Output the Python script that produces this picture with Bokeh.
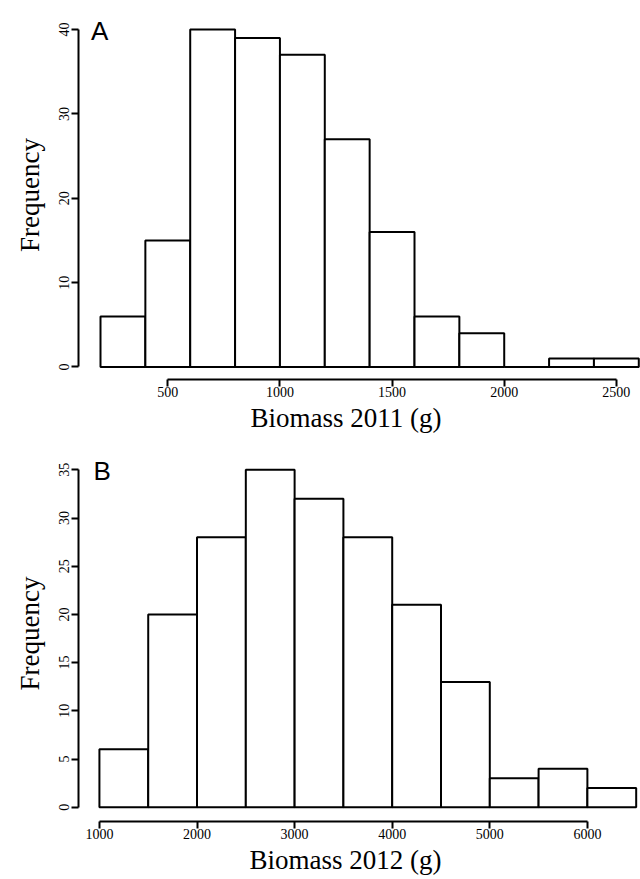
from bokeh.plotting import figure
from bokeh.models import Range1d, FixedTicker, Label, Title
from bokeh.layouts import column
from bokeh.embed import file_html
from bokeh.resources import INLINE

# ---- data ----
edges_2011 = [200, 400, 600, 800, 1000, 1200, 1400, 1600, 1800, 2000, 2200, 2400, 2600]
counts_2011 = [6, 15, 40, 39, 37, 27, 16, 6, 4, 0, 1, 1]
xticks_2011 = [500, 1000, 1500, 2000, 2500]
yticks_2011 = [0, 10, 20, 30, 40]

edges_2012 = [1000, 1500, 2000, 2500, 3000, 3500, 4000, 4500, 5000, 5500, 6000, 6500]
counts_2012 = [6, 20, 28, 35, 32, 28, 21, 13, 3, 4, 2]
xticks_2012 = [1000, 2000, 3000, 4000, 5000, 6000]
yticks_2012 = [0, 5, 10, 15, 20, 25, 30, 35]

SERIF = "Liberation Serif"
SANS = "Liberation Sans"


def make_hist(edges, counts, xticks, yticks, xlabel, panel, xr, yr,
              height, border_left, border_top, border_bottom, label_pos,
              xlabel_offset):
    p = figure(width=640, height=height, output_backend="svg",
               toolbar_location=None, x_range=Range1d(*xr), y_range=Range1d(*yr),
               min_border_left=border_left, min_border_right=0,
               min_border_top=border_top, min_border_bottom=border_bottom)
    p.outline_line_color = None
    p.xgrid.visible = False
    p.ygrid.visible = False
    p.background_fill_color = "white"
    p.border_fill_color = "white"

    p.quad(left=edges[:-1], right=edges[1:], top=counts, bottom=0,
           fill_color="white", line_color="black", line_width=2)

    for ax, ticks in ((p.xaxis[0], xticks), (p.yaxis[0], yticks)):
        ax.ticker = FixedTicker(ticks=ticks)
        ax.bounds = (ticks[0], ticks[-1])
        ax.axis_line_width = 2
        ax.axis_line_color = "black"
        ax.major_tick_line_width = 2
        ax.major_tick_line_color = "black"
        ax.major_tick_out = 7
        ax.major_tick_in = 0
        ax.minor_tick_line_color = None
        ax.major_label_text_font = SERIF
        ax.major_label_text_font_size = "14px"
        ax.major_label_text_color = "black"
        ax.axis_label_text_font = SERIF
        ax.axis_label_text_font_size = "27px"
        ax.axis_label_text_font_style = "normal"
        ax.axis_label_text_color = "black"

    p.xaxis[0].major_label_standoff = 0
    p.yaxis[0].axis_label = "Frequency"
    p.yaxis[0].major_label_orientation = "vertical"
    p.yaxis[0].major_label_standoff = 2
    p.yaxis[0].axis_label_standoff = 12

    # x-axis title, placed below the axis where the reference has it
    p.add_layout(Title(text=xlabel, align="left", offset=xlabel_offset,
                       text_font=SERIF, text_font_size="27px",
                       text_font_style="normal", text_color="black",
                       standoff=2), "below")
    # panel letter
    p.add_layout(Label(x=label_pos[0], y=label_pos[1], text=panel,
                       text_font=SANS, text_font_size="26px",
                       text_color="black", text_align="left",
                       text_baseline="alphabetic"))
    return p


pa = make_hist(edges_2011, counts_2011, xticks_2011, yticks_2011,
               "Biomass 2011 (g)", "A",
               xr=(101.9, 2607.6), yr=(-1.4815, 42.252),
               height=440, border_left=78, border_top=10, border_bottom=61,
               label_pos=(157.6, 39.88), xlabel_offset=172)

pb = make_hist(edges_2012, counts_2012, xticks_2012, yticks_2012,
               "Biomass 2012 (g)", "B",
               xr=(785.6, 6544.2), yr=(-1.483, 37.521),
               height=439, border_left=76, border_top=5, border_bottom=58,
               label_pos=(938.7, 34.85), xlabel_offset=171)

layout = column(pa, pb, spacing=0)

open("out.html", "w").write(file_html(layout, INLINE))
